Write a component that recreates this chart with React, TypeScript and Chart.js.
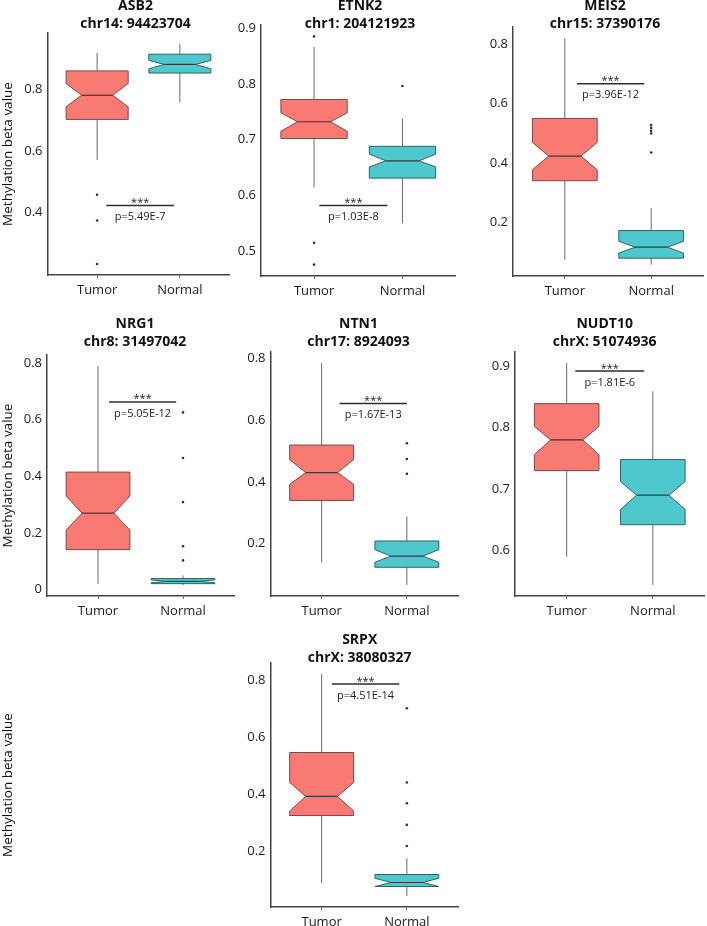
import React, { useEffect, useRef } from 'react';
import { Chart, registerables } from 'chart.js';

Chart.register(...registerables);

// ---------------- data ----------------
const GROUPS = ['Tumor', 'Normal'];
const GENES = ['ASB2', 'ETNK2', 'MEIS2', 'NRG1', 'NTN1', 'NUDT10', 'SRPX'];
const LOCI = [
  'chr14: 94423704',
  'chr1: 204121923',
  'chr15: 37390176',
  'chr8: 31497042',
  'chr17: 8924093',
  'chrX: 51074936',
  'chrX: 38080327',
];
const P_TEXT = ['p=5.49E-7', 'p=1.03E-8', 'p=3.96E-12', 'p=5.05E-12', 'p=1.67E-13', 'p=1.81E-6', 'p=4.51E-14'];
const SIG_MARK = '***';
const Y_TITLE = 'Methylation beta value';

// [lower whisker, q1, median, q3, upper whisker]
const TUMOR_STATS = [
  [0.571, 0.702, 0.780, 0.859, 0.917],
  [0.614, 0.702, 0.732, 0.772, 0.866],
  [0.074, 0.340, 0.423, 0.550, 0.820],
  [0.020, 0.141, 0.270, 0.415, 0.790],
  [0.140, 0.340, 0.430, 0.519, 0.784],
  [0.590, 0.730, 0.780, 0.839, 0.905],
  [0.090, 0.327, 0.394, 0.548, 0.823],
];
const TUMOR_NOTCH = [
  [0.743, 0.818],
  [0.715, 0.748],
  [0.377, 0.469],
  [0.210, 0.330],
  [0.392, 0.472],
  [0.756, 0.802],
  [0.343, 0.443],
];
const NORMAL_STATS = [
  [0.757, 0.852, 0.880, 0.913, 0.946],
  [0.550, 0.631, 0.662, 0.688, 0.738],
  [0.057, 0.079, 0.116, 0.172, 0.248],
  [0.016, 0.021, 0.029, 0.039, 0.050],
  [0.067, 0.124, 0.160, 0.209, 0.288],
  [0.544, 0.642, 0.690, 0.748, 0.859],
  [0.045, 0.078, 0.092, 0.120, 0.177],
];
const NORMAL_NOTCH = [
  [0.866, 0.893],
  [0.651, 0.674],
  [0.096, 0.136],
  [0.024, 0.034],
  [0.140, 0.181],
  [0.667, 0.712],
  [0.078, 0.107],
];
const TUMOR_OUTLIERS = [
  [0.458, 0.375, 0.234],
  [0.885, 0.515, 0.476],
  [],
  [],
  [],
  [],
  [],
];
const NORMAL_OUTLIERS = [
  [],
  [0.796],
  [0.528, 0.518, 0.508, 0.499, 0.435],
  [0.626, 0.465, 0.309, 0.153, 0.103],
  [0.525, 0.474, 0.426],
  [],
  [0.703, 0.443, 0.370, 0.294, 0.220],
];
const Y_TICKS = [
  [0.4, 0.6, 0.8],
  [0.5, 0.6, 0.7, 0.8, 0.9],
  [0.2, 0.4, 0.6, 0.8],
  [0, 0.2, 0.4, 0.6, 0.8],
  [0.2, 0.4, 0.6, 0.8],
  [0.6, 0.7, 0.8, 0.9],
  [0.2, 0.4, 0.6, 0.8],
];
// significance bracket (data units)
const SIG_X_START = [1.11, 1.06, 1.14, 1.13, 1.21, 1.10, 1.12];
const SIG_X_END = [1.93, 1.83, 1.92, 1.92, 2.0, 1.90, 1.91];
const SIG_Y = [0.4235, 0.582, 0.667, 0.663, 0.653, 0.892, 0.788];

// ---------------- layout ----------------
const AREA = [
  { l: 47.5, r: 229.5, t: 33, b: 275 },
  { l: 261, r: 455.5, t: 25, b: 276 },
  { l: 513, r: 707, t: 27, b: 276 },
  { l: 47, r: 234.5, t: 355, b: 596 },
  { l: 270.5, r: 459, t: 352, b: 596 },
  { l: 515, r: 704.5, t: 352, b: 596 },
  { l: 270.5, r: 459.5, t: 663, b: 907 },
];
const CANVAS = [
  { x: 0, y: 0, w: 235, h: 302 },
  { x: 213, y: 0, w: 247, h: 302 },
  { x: 465, y: 0, w: 242, h: 302 },
  { x: 0, y: 305, w: 238, h: 313 },
  { x: 222, y: 305, w: 240, h: 313 },
  { x: 467, y: 305, w: 240, h: 313 },
  { x: 0, y: 622, w: 462, h: 304 },
];
const ROW = [0, 0, 0, 1, 1, 1, 2];
const TITLE_X = [135.5, 360, 605, 135, 358.5, 604.7, 359.7];
const TITLE_Y1 = [5, 322.7, 639.3];
const TITLE_Y2 = [23.3, 341, 657.3];
const SHOW_Y_TITLE = [true, false, false, true, false, false, true];

const FONT = "'Open Sans', 'DejaVu Sans', sans-serif";
const TUMOR_FILL = '#F87A72';
const TUMOR_LINE = '#7a4a46';
const NORMAL_FILL = '#4EC8CD';
const NORMAL_LINE = '#2f6466';
const WHISKER = '#6a6a6a';

Chart.defaults.font.family = FONT;

function makeConfig(i: number) {
  const area = AREA[i];
  const rect = CANVAS[i];
  const all = [
    ...TUMOR_STATS[i],
    ...NORMAL_STATS[i],
    ...TUMOR_OUTLIERS[i],
    ...NORMAL_OUTLIERS[i],
  ];
  const lo = Math.min(...all);
  const hi = Math.max(...all);
  const pad = (hi - lo) * 0.05;

  const boxPlugin = {
    id: 'notchedBoxes' + i,
    beforeDatasetsDraw(chart: any) {
      const { ctx, scales } = chart;
      const xs = scales.x;
      const ys = scales.y;
      const groups = [
        { s: TUMOR_STATS[i], n: TUMOR_NOTCH[i], fill: TUMOR_FILL, line: TUMOR_LINE },
        { s: NORMAL_STATS[i], n: NORMAL_NOTCH[i], fill: NORMAL_FILL, line: NORMAL_LINE },
      ];
      groups.forEach((g, gi) => {
        const cx = xs.getPixelForValue(gi + 1);
        const half = xs.getPixelForValue(gi + 1 + 0.375) - cx;
        const inset = half * 0.5;
        const [wMin, q1, med, q3, wMax] = g.s.map((v: number) => ys.getPixelForValue(v));
        const nLo = ys.getPixelForValue(g.n[0]);
        const nHi = ys.getPixelForValue(g.n[1]);
        ctx.save();
        ctx.strokeStyle = WHISKER;
        ctx.lineWidth = 1;
        ctx.beginPath();
        ctx.moveTo(cx, wMax);
        ctx.lineTo(cx, q3);
        ctx.moveTo(cx, q1);
        ctx.lineTo(cx, wMin);
        ctx.stroke();
        ctx.beginPath();
        ctx.moveTo(cx - half, q3);
        ctx.lineTo(cx + half, q3);
        ctx.lineTo(cx + half, nHi);
        ctx.lineTo(cx + half - inset, med);
        ctx.lineTo(cx + half, nLo);
        ctx.lineTo(cx + half, q1);
        ctx.lineTo(cx - half, q1);
        ctx.lineTo(cx - half, nLo);
        ctx.lineTo(cx - half + inset, med);
        ctx.lineTo(cx - half, nHi);
        ctx.closePath();
        ctx.fillStyle = g.fill;
        ctx.fill();
        ctx.strokeStyle = g.line;
        ctx.lineWidth = 1;
        ctx.stroke();
        ctx.beginPath();
        ctx.moveTo(cx - half + inset, med);
        ctx.lineTo(cx + half - inset, med);
        ctx.strokeStyle = '#3a3a3a';
        ctx.lineWidth = 1.2;
        ctx.stroke();
        ctx.restore();
      });
      // significance bracket
      const x1 = xs.getPixelForValue(SIG_X_START[i]);
      const x2 = xs.getPixelForValue(SIG_X_END[i]);
      const sy = ys.getPixelForValue(SIG_Y[i]);
      ctx.save();
      ctx.strokeStyle = '#2e2e2e';
      ctx.lineWidth = 1.5;
      ctx.beginPath();
      ctx.moveTo(x1, sy);
      ctx.lineTo(x2, sy);
      ctx.stroke();
      ctx.fillStyle = '#222';
      ctx.textAlign = 'center';
      ctx.font = `11px ${FONT}`;
      ctx.textBaseline = 'alphabetic';
      ctx.fillText(SIG_MARK, (x1 + x2) / 2, sy + 0.5);
      ctx.textBaseline = 'middle';
      ctx.fillText(P_TEXT[i], (x1 + x2) / 2, sy + 11.5);
      ctx.restore();
    },
    afterDraw(chart: any) {
      const { ctx } = chart;
      const row = ROW[i];
      ctx.save();
      ctx.fillStyle = '#111';
      ctx.textAlign = 'center';
      ctx.textBaseline = 'alphabetic';
      ctx.font = `bold 14px ${FONT}`;
      ctx.fillText(GENES[i], TITLE_X[i] - rect.x, TITLE_Y1[row] - rect.y + 5);
      ctx.fillText(LOCI[i], TITLE_X[i] - rect.x, TITLE_Y2[row] - rect.y + 5);
      if (SHOW_Y_TITLE[i]) {
        ctx.translate(8 - rect.x, (area.t + area.b) / 2 - rect.y);
        ctx.rotate(-Math.PI / 2);
        ctx.font = `13.5px ${FONT}`;
        ctx.textBaseline = 'middle';
        ctx.fillText(Y_TITLE, 0, 0);
      }
      ctx.restore();
    },
  };

  return {
    type: 'scatter' as const,
    data: {
      datasets: [
        {
          label: GROUPS[0],
          data: TUMOR_OUTLIERS[i].map((y) => ({ x: 1, y })),
          pointRadius: 1.3,
          pointBackgroundColor: '#333',
          pointBorderWidth: 0,
        },
        {
          label: GROUPS[1],
          data: NORMAL_OUTLIERS[i].map((y) => ({ x: 2, y })),
          pointRadius: 1.3,
          pointBackgroundColor: '#333',
          pointBorderWidth: 0,
        },
      ],
    },
    options: {
      animation: false as const,
      responsive: false,
      maintainAspectRatio: false,
      devicePixelRatio: 1,
      events: [],
      layout: {
        padding: {
          left: 0,
          top: area.t - rect.y,
          right: rect.x + rect.w - area.r,
          bottom: 0,
        },
      },
      plugins: {
        legend: { display: false },
        tooltip: { enabled: false },
        title: { display: false },
      },
      scales: {
        x: {
          type: 'linear' as const,
          min: 0.4,
          max: 2.6,
          afterBuildTicks: (s: any) => {
            s.ticks = GROUPS.map((_, k) => ({ value: k + 1 }));
          },
          afterFit: (s: any) => {
            s.height = rect.y + rect.h - area.b;
            s.paddingLeft = 0;
            s.paddingRight = 0;
          },
          ticks: {
            callback: (v: any) => GROUPS[Math.round(v) - 1] ?? '',
            font: { size: 13, family: FONT },
            color: '#1a1a1a',
            padding: 4,
            autoSkip: false,
            maxRotation: 0,
          },
          grid: {
            display: true,
            drawOnChartArea: false,
            drawTicks: true,
            tickLength: 3,
            color: '#666',
            lineWidth: 1,
          },
          border: { display: true, color: '#444', width: 1.5 },
        },
        y: {
          type: 'linear' as const,
          min: lo - pad,
          max: hi + pad,
          afterBuildTicks: (s: any) => {
            s.ticks = Y_TICKS[i].map((v) => ({ value: v }));
          },
          afterFit: (s: any) => {
            s.width = area.l - rect.x;
            s.paddingTop = 0;
            s.paddingBottom = 0;
          },
          ticks: {
            callback: (v: any) => (v === 0 ? '0' : Number(v).toFixed(1)),
            font: { size: 13, family: FONT },
            color: '#1a1a1a',
            padding: 5,
            autoSkip: false,
          },
          grid: { display: false, drawTicks: false },
          border: { display: true, color: '#444', width: 1.5 },
        },
      },
    },
    plugins: [boxPlugin],
  };
}

function Panel({ i }: { i: number }) {
  const ref = useRef<HTMLCanvasElement>(null);
  const rect = CANVAS[i];
  useEffect(() => {
    const canvas = ref.current;
    if (!canvas) return;
    const chart = new Chart(canvas, makeConfig(i) as any);
    return () => chart.destroy();
  }, [i]);
  return (
    <canvas
      ref={ref}
      width={rect.w}
      height={rect.h}
      style={{ position: 'absolute', left: rect.x, top: rect.y, width: rect.w, height: rect.h }}
    />
  );
}

export default function App() {
  return (
    <div
      style={{
        position: 'absolute',
        left: 0,
        top: 0,
        width: 707,
        height: 926,
        overflow: 'hidden',
        background: '#fff',
      }}
    >
      {GENES.map((_, i) => (
        <Panel key={i} i={i} />
      ))}
    </div>
  );
}
